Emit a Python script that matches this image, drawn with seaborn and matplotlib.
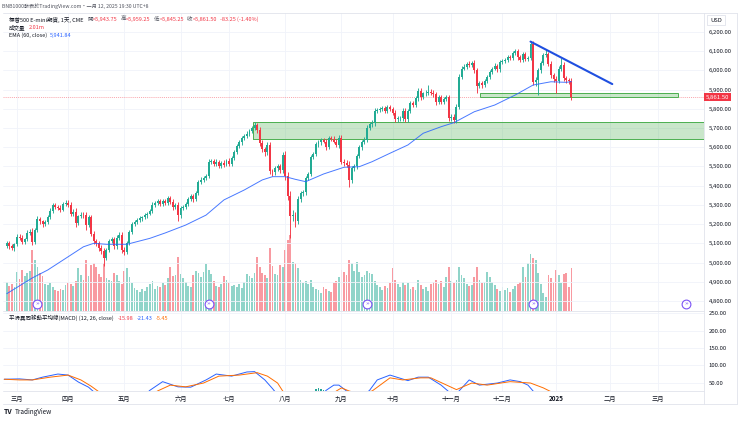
import numpy as np
import pandas as pd
import seaborn as sns
import matplotlib.pyplot as plt
import matplotlib.ticker as mticker
import matplotlib.transforms as mtrans
from matplotlib.patches import Rectangle
from matplotlib.lines import Line2D

# daily closes (ES1!, Feb 26 2024 .. Jan 10 2025)
closes = [
    5100, 5085, 5075, 5095, 5135, 5128, 5108, 5120, 5155, 5160,
    5105, 5170, 5225, 5215, 5200, 5210, 5235, 5270, 5300, 5290,
    5285, 5275, 5305, 5312, 5300, 5255, 5265, 5205, 5240, 5250,
    5245, 5195, 5235, 5150, 5110, 5100, 5075, 5060, 5025, 5065,
    5110, 5120, 5085, 5130, 5145, 5065, 5055, 5100, 5160, 5200,
    5210, 5220, 5230, 5235, 5245, 5255, 5270, 5300, 5310, 5320,
    5305, 5320, 5310, 5335, 5315, 5290, 5300, 5245, 5285, 5290,
    5305, 5330, 5345, 5330, 5360, 5420, 5430, 5440, 5450, 5525,
    5530, 5515, 5525, 5505, 5520, 5510, 5530, 5515, 5545, 5575,
    5605, 5625, 5650, 5660, 5670, 5685, 5700, 5715, 5690, 5620,
    5590, 5575, 5610, 5475, 5470, 5490, 5500, 5480, 5560, 5450,
    5345, 5240, 5245, 5215, 5330, 5360, 5365, 5440, 5460, 5550,
    5565, 5615, 5625, 5640, 5630, 5600, 5650, 5645, 5630, 5610,
    5650, 5525, 5520, 5510, 5430, 5490, 5500, 5555, 5600, 5630,
    5640, 5700, 5720, 5725, 5790, 5795, 5800, 5805, 5790, 5810,
    5800, 5780, 5745, 5750, 5750, 5790, 5745, 5790, 5830, 5820,
    5855, 5895, 5860, 5880, 5885, 5890, 5885, 5875, 5835, 5860,
    5835, 5850, 5860, 5750, 5760, 5740, 5810, 5965, 6010, 6020,
    6035, 6030, 6040, 6000, 5920, 5935, 5925, 5945, 5965, 5990,
    6010, 6025, 6005, 6045, 6050, 6055, 6070, 6065, 6090, 6100,
    6070, 6055, 6085, 6060, 6065, 6140, 5940, 5950, 6000, 6040,
    6080, 6085, 6035, 5975, 5955, 5945, 6010, 6030, 5960, 5950,
    5943.75, 5861.5,
]
first_open = 5088

wick_up = [
    12, 10, 14, 9, 15, 11, 13, 10, 12, 14,
    18, 12, 15, 11, 9, 13, 12, 14, 10, 11,
    9, 12, 10, 13, 11, 15, 12, 18, 10, 12,
    11, 16, 14, 12, 15, 13, 11, 14, 16, 12,
    10, 13, 15, 11, 12, 16, 14, 12, 10, 11,
    9, 10, 12, 8, 11, 10, 9, 14, 11, 12,
    10, 12, 9, 13, 11, 14, 12, 15, 10, 11,
    9, 12, 10, 13, 11, 12, 14, 10, 12, 16,
    11, 10, 12, 9, 11, 13, 10, 12, 9, 11,
    10, 12, 9, 11, 13, 10, 12, 14, 11, 15,
    16, 13, 15, 18, 14, 12, 15, 13, 16, 20,
    22, 25, 28, 20, 15, 14, 12, 13, 11, 12,
    10, 11, 12, 9, 10, 11, 8, 10, 12, 11,
    13, 12, 14, 15, 18, 13, 15, 12, 11, 10,
    12, 14, 11, 16, 13, 10, 9, 11, 10, 12,
    11, 10, 13, 12, 11, 14, 12, 11, 10, 12,
    11, 15, 12, 10, 11, 34, 12, 11, 13, 10,
    12, 11, 10, 14, 12, 11, 13, 15, 12, 11,
    10, 12, 11, 13, 14, 12, 11, 10, 12, 11,
    10, 12, 11, 9, 10, 12, 11, 10, 12, 13,
    11, 12, 10, 13, 11, 10, 14, 16, 12, 11,
    10, 21, 12, 13, 14, 16, 12, 33, 14, 12,
    10, 15.5,
]
wick_dn = [
    10, 12, 11, 14, 9, 12, 13, 11, 10, 12,
    15, 11, 13, 12, 16, 10, 11, 9, 12, 10,
    11, 12, 9, 10, 12, 14, 11, 20, 12, 10,
    12, 25, 11, 14, 16, 15, 13, 18, 45, 12,
    11, 10, 14, 12, 11, 15, 18, 12, 10, 11,
    10, 9, 11, 12, 10, 11, 9, 12, 10, 11,
    12, 10, 11, 9, 12, 14, 11, 30, 12, 10,
    11, 10, 12, 14, 11, 10, 12, 11, 9, 12,
    13, 11, 10, 12, 14, 11, 10, 15, 12, 10,
    11, 9, 12, 10, 11, 13, 12, 10, 14, 15,
    16, 18, 14, 15, 20, 14, 13, 15, 12, 18,
    22, 110, 25, 30, 15, 14, 12, 13, 11, 12,
    10, 11, 12, 14, 10, 16, 11, 12, 10, 11,
    12, 14, 15, 13, 35, 14, 16, 12, 11, 13,
    12, 13, 11, 15, 14, 10, 11, 9, 12, 10,
    12, 14, 16, 13, 15, 12, 13, 11, 12, 10,
    11, 12, 13, 10, 12, 11, 13, 12, 14, 11,
    12, 10, 11, 15, 14, 12, 13, 11, 12, 10,
    11, 12, 10, 13, 40, 12, 14, 11, 10, 12,
    11, 10, 12, 11, 10, 12, 11, 13, 10, 12,
    14, 12, 11, 13, 12, 11, 18, 20, 78, 12,
    10, 11, 13, 15, 14, 60, 12, 11, 14, 13,
    12, 16.25,
]

# volume in millions
volumes = [
    1.36, 1.17, 1.26, 1.12, 1.82, 1.50, 1.92, 1.64, 1.78, 1.87,
    2.85, 2.38, 2.06, 1.78, 1.64, 1.26, 1.21, 1.31, 1.12, 0.98,
    0.93, 1.03, 0.98, 1.21, 1.31, 1.26, 1.17, 1.40, 2.01, 1.68,
    1.45, 2.38, 1.64, 2.15, 2.24, 2.06, 1.73, 1.59, 2.24, 1.54,
    1.45, 1.40, 1.78, 1.68, 1.40, 1.26, 1.87, 2.01, 1.59, 1.31,
    1.07, 0.98, 0.89, 1.03, 0.93, 1.12, 1.26, 1.40, 1.03, 1.17,
    1.12, 1.31, 1.21, 1.54, 2.06, 1.64, 1.68, 2.52, 1.73, 1.54,
    1.36, 1.17, 1.12, 1.68, 1.87, 1.78, 1.59, 1.82, 2.20, 1.92,
    1.73, 1.40, 1.17, 1.12, 1.26, 1.64, 1.45, 1.31, 1.17, 1.21,
    1.12, 1.26, 1.07, 1.36, 1.73, 1.64, 1.54, 1.78, 2.52, 2.06,
    1.78, 1.68, 1.54, 2.94, 2.10, 1.73, 1.68, 2.15, 2.06, 2.85,
    3.32, 3.55, 2.29, 2.24, 2.01, 1.45, 1.31, 1.40, 1.26, 1.45,
    1.12, 1.03, 0.98, 0.84, 1.12, 1.03, 0.93, 0.89, 1.31, 1.40,
    1.59, 1.92, 1.82, 1.68, 2.38, 2.24, 1.87, 2.29, 1.82, 1.59,
    1.68, 1.87, 1.78, 1.73, 1.40, 1.21, 1.12, 0.98, 1.17, 1.07,
    1.31, 2.01, 1.45, 1.26, 1.12, 1.36, 1.21, 1.31, 1.03, 1.12,
    0.98, 1.45, 1.21, 1.03, 1.12, 0.93, 1.26, 1.36, 1.45, 1.26,
    1.40, 1.12, 1.59, 2.06, 1.40, 1.31, 1.45, 2.06, 1.68, 1.54,
    1.26, 1.17, 1.21, 1.59, 2.06, 1.45, 1.31, 1.36, 1.82, 1.59,
    1.36, 1.21, 1.03, 0.93, 1.12, 0.98, 1.07, 0.89, 1.03, 1.17,
    1.26, 1.36, 2.06, 1.59, 2.24, 2.66, 2.48, 2.38, 1.78, 1.26,
    0.84, 0.65, 1.68, 1.54, 1.36, 1.92, 1.68, 1.31, 1.73, 1.78,
    1.12, 2.01,
]

# EMA(60) read at points along the line
ema_idx = [0, 10, 16, 24, 30, 34, 39, 47, 56, 62, 70, 78, 85, 93, 100, 104,
           109, 113, 117, 124, 132, 138, 143, 150, 157, 163, 170, 175, 183,
           191, 199, 206, 213, 219, 221]
ema_val = [4838, 4920, 4961, 5030, 5082, 5100, 5095, 5095, 5126, 5154, 5195,
           5247, 5326, 5378, 5430, 5447, 5447, 5433, 5421, 5461, 5496, 5499,
           5525, 5569, 5612, 5673, 5707, 5728, 5785, 5820, 5872, 5924, 5941,
           5938, 5941.84]

# MACD (12, 26) and signal, read where visible; lower parts fall below the pane
macd_idx = [-1, 5, 10, 14, 20, 24, 28, 32, 34, 38, 45, 52, 56, 61, 67, 72, 78,
            82, 88, 94, 97, 101, 104, 106, 111, 117, 122, 125, 128, 130, 133,
            136, 140, 142, 145, 150, 157, 161, 165, 170, 173, 175, 177, 181,
            185, 192, 197, 201, 204, 206, 210, 215, 221]
macd_val = [60, 61, 58, 66, 75, 72, 52, 37, 24, -15, -25, 0, 28, 53, 38, 37,
            58, 75, 69, 81, 82, 58, 33, 15, -40, -30, 5, 28, 43, 43, 26, 5,
            15, 28, 58, 72, 56, 66, 66, 43, 24, 10, 26, 58, 43, 49, 58, 53,
            43, 26, 0, -15, -21.43]
signal_idx = [-1, 5, 10, 17, 24, 29, 33, 36, 40, 48, 55, 59, 64, 70, 77, 83,
              91, 98, 102, 106, 108, 112, 118, 124, 129, 131, 134, 138, 143,
              150, 155, 162, 166, 171, 176, 182, 188, 197, 205, 210, 213, 221]
signal_val = [60, 58, 58, 66, 72, 58, 40, 24, 5, -15, 5, 26, 43, 38, 49, 69,
              72, 79, 69, 49, 26, 5, -25, -5, 26, 35, 26, 18, 26, 64, 58, 64,
              64, 47, 30, 49, 43, 53, 49, 35, 24, -5.45]
hist_idx = [120, 121, 122, 123, 124]
hist_val = [27, 31, 34, 33, 30]

month_idx = [4, 24, 46, 68, 87, 109, 131, 151, 174, 194, 215, 236, 255]
month_labels = ['三月', '四月', '五月', '六月', '七月', '八月', '九月', '十月',
                '十一月', '十二月', '2025', '二月', '三月']
roll_idx = [12, 79, 141, 206, 266]
price_ticks = list(range(4800, 6201, 100))
macd_ticks = [50, 100, 150, 200, 250]

zone1_start, zone1_low, zone1_high = 96.4, 5642, 5730
zone2_start, zone2_end, zone2_low, zone2_high = 185.2, 262.7, 5860, 5885
trend_idx = [205, 237]
trend_val = [6150, 5929]
last_price = 5861.5

UP, DN = '#22ab94', '#f23645'
BLUE, ORANGE = '#2962ff', '#ff6d00'
GRID, FRAME, TXT, GREY = '#f0f3fa', '#e0e3eb', '#131722', '#50535e'

sns.set_theme(style='white')
plt.rcParams['font.family'] = ['Noto Sans CJK TC', 'DejaVu Sans']

df = pd.DataFrame({'close': closes, 'vol': volumes,
                   'wu': wick_up, 'wd': wick_dn})
df['open'] = df['close'].shift(1).fillna(first_open)
df['high'] = df[['open', 'close']].max(axis=1) + df['wu']
df['low'] = df[['open', 'close']].min(axis=1) - df['wd']
up = df['close'] >= df['open']

W, H = 740, 421
fig = plt.figure(figsize=(7.4, 4.21), dpi=100)
renderer = fig.canvas.get_renderer()


def fx(x):
    return x / W


def fy(y):
    return 1 - y / H


def label(x, y, s, color=TXT, size=4.6, **kw):
    return fig.text(fx(x), fy(y), s, color=color, fontsize=size, va='center', **kw)


def chain(x, y, parts, size):
    # lay text pieces one after the other, each (text, colour, gap after)
    for s, c, gap in parts:
        t = label(x, y, s, color=c, size=size)
        x += t.get_window_extent(renderer=renderer).width + gap


xlim = (-1.48, 272.9)
ax = fig.add_axes([fx(3), fy(311), (704 - 3) / W, (311 - 13) / H])
axm = fig.add_axes([fx(3), fy(391), (704 - 3) / W, (391 - 311) / H])

# volume behind the candles
axv = ax.twinx()
axv.bar(df.index, df['vol'], width=0.7,
        color=np.where(up, UP, DN), alpha=0.5, linewidth=0)
axv.set_ylim(0, 13.9)
axv.axis('off')
ax.set_zorder(axv.get_zorder() + 1)
ax.patch.set_visible(False)

# candles
col = np.where(up, UP, DN)
ax.vlines(df.index, df['low'], df['high'], colors=col, lw=0.65, zorder=3)
body = (df['close'] - df['open']).abs().clip(lower=1.5)
ax.bar(df.index, body, bottom=df[['open', 'close']].min(axis=1),
       width=0.76, color=col, linewidth=0, zorder=4)

sns.lineplot(x=ema_idx, y=ema_val, ax=ax, color=BLUE, lw=0.7, alpha=0.85, zorder=5)

# zones and trend line
ax.add_patch(Rectangle((zone1_start, zone1_low), 400, zone1_high - zone1_low,
                       facecolor='#4caf50', alpha=0.3, edgecolor='none', zorder=2))
ax.add_patch(Rectangle((zone1_start, zone1_low), 400, zone1_high - zone1_low,
                       facecolor='none', edgecolor='#4caf50', lw=0.7, zorder=2))
ax.add_patch(Rectangle((zone2_start, zone2_low), zone2_end - zone2_start,
                       zone2_high - zone2_low, facecolor='#4caf50', alpha=0.3,
                       edgecolor='none', zorder=2))
ax.add_patch(Rectangle((zone2_start, zone2_low), zone2_end - zone2_start,
                       zone2_high - zone2_low, facecolor='none',
                       edgecolor='#4caf50', lw=0.7, zorder=2))
ax.plot(trend_idx, trend_val, color='#1f4fe0', lw=1.5, zorder=6,
        solid_capstyle='round')
ax.axhline(last_price, color=DN, lw=0.5, ls=(0, (1.5, 1.5)), alpha=0.6, zorder=1)

# roll markers
blend = mtrans.blended_transform_factory(ax.transData, ax.transAxes)
ax.scatter(roll_idx, [0.0235] * len(roll_idx), transform=blend, s=40,
           facecolor='white', edgecolor='#7b52f5', lw=0.8, zorder=7, clip_on=False)
for r in roll_idx:
    ax.text(r, 0.0235, '»', transform=blend, ha='center', va='center',
            fontsize=4.5, color='#7b52f5', zorder=8, family='DejaVu Sans')

ax.set_xlim(*xlim)
ax.set_ylim(4747.8, 6298.9)
ax.set_xticks(month_idx)
ax.set_yticks(price_ticks)
ax.yaxis.tick_right()
ax.yaxis.set_major_formatter(mticker.FuncFormatter(lambda v, p: f'{v:,.2f}'))
ax.tick_params(axis='y', length=0, pad=3.5, labelsize=4.3, labelcolor=TXT)
ax.tick_params(axis='x', length=0, labelbottom=False)
ax.grid(True, color=GRID, lw=0.6)
ax.set_axisbelow(True)
for s in ax.spines.values():
    s.set_visible(False)

# MACD pane
sns.lineplot(x=macd_idx, y=macd_val, ax=axm, color=BLUE, lw=0.7)
sns.lineplot(x=signal_idx, y=signal_val, ax=axm, color=ORANGE, lw=0.7)
axm.bar(hist_idx, hist_val, width=0.6, color='#26a69a', linewidth=0)
axm.set_xlim(*xlim)
axm.set_ylim(26.0, 257.2)
axm.set_yticks(macd_ticks)
axm.yaxis.tick_right()
axm.yaxis.set_major_formatter(mticker.FormatStrFormatter('%.2f'))
axm.tick_params(axis='y', length=0, pad=3.5, labelsize=4.3, labelcolor=TXT)
axm.set_xticks(month_idx, month_labels)
axm.tick_params(axis='x', length=0, pad=3, labelsize=4.5, labelcolor=TXT)
for t in axm.get_xticklabels():
    if t.get_text() == '2025':
        t.set_fontweight('bold')
axm.grid(True, color=GRID, lw=0.6)
axm.set_axisbelow(True)
for s in axm.spines.values():
    s.set_visible(False)

# frame lines
for (x0, y0, x1, y1) in [(3, 13, 737, 13), (3, 311, 704, 311), (3, 391, 704, 391),
                         (3, 404, 737, 404), (704, 13, 704, 404), (737, 13, 737, 404)]:
    fig.add_artist(Line2D([fx(x0), fx(x1)], [fy(y0), fy(y1)], color=FRAME, lw=0.6))

# header
label(2, 6, 'BNB1000發表於TradingView.com・一月 12, 2025 19:30 UTC+8', color=GREY, size=3.7)
chain(9, 19.5, [('標普500 E-mini期貨, 1天, CME', TXT, 3.5),
                ('開', GREY, 0.3), ('=5,943.75', DN, 3),
                ('高', GREY, 0.3), ('=5,959.25', DN, 3),
                ('低', GREY, 0.3), ('=5,845.25', DN, 3),
                ('收', GREY, 0.3), ('=5,861.50', DN, 3),
                ('-83.25 (-1.40%)', DN, 0)], size=4.0)
chain(9, 27.5, [('成交量', TXT, 3), ('2.01m', DN, 0)], size=4.0)
chain(9, 35.5, [('EMA (60, close)', TXT, 3), ('5,941.84', BLUE, 0)], size=4.0)

chain(9, 318, [('平滑異同移動平均線(MACD) (12, 26, close)', TXT, 4),
               ('-15.98', DN, 3), ('-21.43', BLUE, 3), ('-5.45', ORANGE, 0)], size=4.0)

# price axis extras
label(710, 20, 'USD', size=4.2,
      bbox=dict(boxstyle='square,pad=0.5', fc='white', ec=FRAME, lw=0.6))
label(706, 97, '5,861.50', color='white', size=4.3,
      bbox=dict(boxstyle='square,pad=0.3', fc=DN, ec='none'))

label(4, 412, 'TV', color=TXT, size=5, fontweight='bold')
label(15, 412, 'TradingView', color=TXT, size=4.6)

fig.savefig('out.png', dpi=100, facecolor='white')
